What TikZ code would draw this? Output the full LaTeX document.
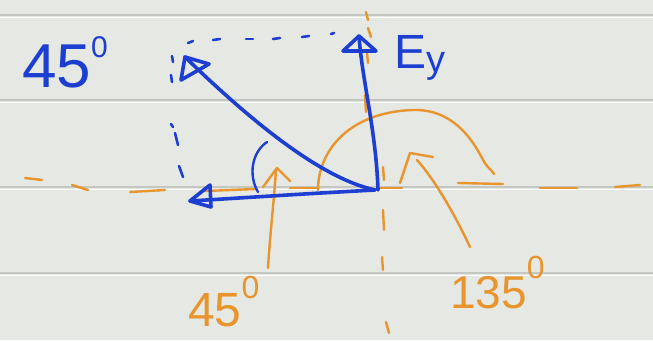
\documentclass[tikz,border=0pt]{standalone}
\usepackage{fontspec}
\setmainfont{Liberation Sans}
\definecolor{paper}{HTML}{E6E8E3}
\definecolor{rule}{HTML}{C4C6C2}
\definecolor{pen}{HTML}{1C3FD2}
\definecolor{marker}{HTML}{E8952E}
\newcommand{\supz}[2]{\raisebox{#1}{\fontsize{#2}{#2}\selectfont 0}}
\tikzset{
  ruled/.style={draw=rule, line width=2pt},
  ruledhi/.style={draw=white, line width=1pt},
  bluepen/.style={draw=pen, line width=3.6pt, line cap=round, line join=round},
  bluedot/.style={draw=pen, line width=2.6pt, line cap=round},
  orangepen/.style={draw=marker, line width=2.4pt, line cap=round, line join=round},
  bluetxt/.style={text=pen, inner sep=0pt},
  orangetxt/.style={text=marker, inner sep=0pt}
}
\begin{document}
\begin{tikzpicture}[x=1pt,y=-1pt]
  \fill[paper] (0,0) rectangle (653,340);
  \useasboundingbox (0,0) rectangle (653,340);
  % ruled lines
  \foreach \yy in {15,100,187,273} {
    \draw[ruled] (0,\yy) -- (653,\yy);
    \draw[ruledhi] (0,\yy+2) -- (653,\yy+2);
  }
  % coordinates
  \coordinate (O) at (375,190);
  \coordinate (Ex) at (190,201);
  \coordinate (Ey) at (359,36);
  \coordinate (D) at (185,57);
  \coordinate (Oy) at (378,190);
  % orange dashed horizontal axis
  \foreach \a/\b in {{(25,178)/(42,180)},{(72,185)/(88,190)},{(130,192)/(165,190)},{(205,191)/(255,189)},{(290,188)/(318,188)},{(378,188)/(402,188)},{(458,183)/(503,184)},{(540,188)/(577,188)},{(615,187)/(640,185)}}
    \draw[orangepen] \a -- \b;
  % orange dashed vertical axis
  \foreach \a/\b in {{(366,12)/(368,20)},{(368,28)/(371,37)},{(367,53)/(368,63)},{(365,95)/(366,112)},{(383,167)/(384,180)},{(383,210)/(384,230)},{(382,257)/(383,270)},{(386,322)/(389,333)}}
    \draw[orangepen] \a -- \b;
  % big orange arc (135 deg)
  \draw[orangepen] (318,190) .. controls (318,150) and (350,112) .. (413,110)
        .. controls (450,109) and (470,135) .. (482,158)
        .. controls (487,168) and (492,170) .. (494,174);
  % orange arrow for 135
  \coordinate (a135s) at (470,247);
  \coordinate (a135t) at (417,160);
  \draw[orangepen] (a135s) .. controls (455,215) and (435,180) .. (a135t);
  \draw[orangepen] (400,183) -- (410,153) -- (433,157);
  % orange arrow for 45
  \coordinate (a45s) at (268,268);
  \coordinate (a45t) at (276,170);
  \draw[orangepen] (a45s) .. controls (270,235) and (274,200) .. (a45t);
  \draw[orangepen] (263,187) -- (277,168) -- (290,181);
  % blue dotted guides
  \foreach \a/\b in {{(188,43)/(193,41)},{(213,40)/(220,39)},{(246,39)/(253,39)},{(273,39)/(280,38)},{(302,37)/(309,36)},{(331,34)/(334,33)}}
    \draw[bluedot] \a -- \b;
  \foreach \a/\b in {{(172,56)/(173,62)},{(171,75)/(172,82)},{(171,124)/(173,127)},{(175,133)/(178,145)},{(179,166)/(183,177)}}
    \draw[bluedot] \a -- \b;
  % blue vectors
  \draw[bluepen] (O) .. controls (300,194) and (240,198) .. (Ex);
  \draw[bluepen] (Ex) -- (210,185) -- (211,207) -- cycle;
  \draw[bluepen] (Oy) .. controls (376,130) and (362,80) .. (Ey);
  \draw[bluepen] (Ey) -- (343,51) -- (376,51) -- cycle;
  \draw[bluepen] (O) .. controls (320,178) and (250,120) .. (D);
  \draw[bluepen] (D) -- (181,80) -- (209,64) -- cycle;
  % blue angle arc
  \draw[draw=pen, line width=2.4pt, line cap=round] (267,142) .. controls (252,152) and (248,175) .. (258,192);
  % labels
  \node[bluetxt, anchor=base west, font=\fontsize{62}{62}\selectfont] (l45b) at (22,87) {45\supz{30pt}{30}};
  \node[bluetxt, anchor=base west, font=\fontsize{48}{48}\selectfont] (lEy) at (394,68) {E\raisebox{-4pt}{\fontsize{38}{38}\selectfont y}};
  \node[orangetxt, anchor=base west, font=\fontsize{48}{48}\selectfont] (l45o) at (188,326) {45\supz{28pt}{32}};
  \node[orangetxt, anchor=base west, font=\fontsize{46}{46}\selectfont] (l135) at (450,308) {135\supz{30pt}{32}};
\end{tikzpicture}
\end{document}
